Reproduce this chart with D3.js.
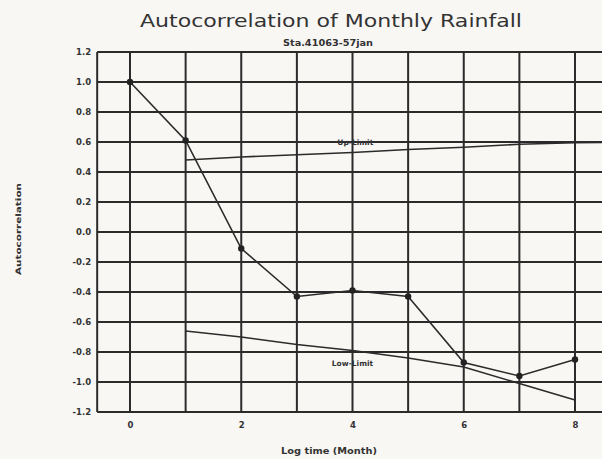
<!DOCTYPE html>
<html>
<head>
<meta charset="utf-8">
<script src="https://cdn.jsdelivr.net/npm/d3@7"></script>
<style>
  html, body { margin: 0; padding: 0; background: #f8f7f4; }
  svg { display: block; }
</style>
</head>
<body>
<svg id="chart" width="602" height="459"></svg>
<script>
// ---- data ----
const lags = [0, 1, 2, 3, 4, 5, 6, 7, 8];
const acf = [1.0, 0.61, -0.11, -0.43, -0.39, -0.43, -0.87, -0.96, -0.85];
const limitLags = [1, 2, 3, 4, 5, 6, 7, 8, 9];
const upLimit = [0.48, 0.50, 0.515, 0.53, 0.55, 0.565, 0.585, 0.595, 0.60];
const lowLimitLags = [1, 2, 3, 4, 5, 6, 7, 8];
const lowLimit = [-0.66, -0.70, -0.75, -0.79, -0.84, -0.90, -1.01, -1.12];
const yTicks = [1.2, 1.0, 0.8, 0.6, 0.4, 0.2, 0.0, -0.2, -0.4, -0.6, -0.8, -1.0, -1.2];
const xGrid = [0, 1, 2, 3, 4, 5, 6, 7, 8, 9];
const xTickLabels = [0, 2, 4, 6, 8];
const title = "Autocorrelation of Monthly Rainfall";
const subtitle = "Sta.41063-57jan";
const xTitle = "Log time (Month)";
const yTitle = "Autocorrelation";

// ---- scales ----
const svg = d3.select("#chart");
const x = d3.scaleLinear().domain([0, 8]).range([130, 575]);
const y = d3.scaleLinear().domain([-1.2, 1.2]).range([412, 52]);
const left = x(-0.59);
const right = 602;
const ink = "#2b2b2b";

// grid
const g = svg.append("g");
g.selectAll("line.h").data(yTicks).enter().append("line")
  .attr("x1", left).attr("x2", right)
  .attr("y1", d => y(d)).attr("y2", d => y(d))
  .attr("stroke", ink).attr("stroke-width", 2);
g.selectAll("line.v").data(xGrid).enter().append("line")
  .attr("x1", d => x(d)).attr("x2", d => x(d))
  .attr("y1", y(1.2)).attr("y2", y(-1.2))
  .attr("stroke", ink).attr("stroke-width", 2);
g.append("line").attr("x1", left).attr("x2", left)
  .attr("y1", y(1.2)).attr("y2", y(-1.2))
  .attr("stroke", ink).attr("stroke-width", 2);

// axes labels
const yAxis = d3.axisLeft(y).tickValues(yTicks).tickSize(0).tickPadding(6)
  .tickFormat(d => d3.format(".1f")(d).replace("−", "-"));
svg.append("g").attr("transform", `translate(${left},0)`).call(yAxis)
  .call(s => s.select(".domain").remove())
  .call(s => s.selectAll("text").attr("font-family", "DejaVu Sans").attr("font-size", 8.5)
    .attr("font-weight", "bold").attr("fill", "#333"));

const xAxis = d3.axisBottom(x).tickValues(xTickLabels).tickSize(0).tickPadding(10);
svg.append("g").attr("transform", `translate(0,${y(-1.2)})`).call(xAxis)
  .call(s => s.select(".domain").remove())
  .call(s => s.selectAll("text").attr("font-family", "DejaVu Sans").attr("font-size", 8.5)
    .attr("font-weight", "bold").attr("fill", "#333"));

// limit lines
const line = d3.line().x(d => x(d[0])).y(d => y(d[1]));
svg.append("path").datum(limitLags.map((l, i) => [l, upLimit[i]]))
  .attr("d", line).attr("fill", "none").attr("stroke", ink).attr("stroke-width", 1.6);
svg.append("path").datum(lowLimitLags.map((l, i) => [l, lowLimit[i]]))
  .attr("d", line).attr("fill", "none").attr("stroke", ink).attr("stroke-width", 1.6);

// acf series
svg.append("path").datum(lags.map((l, i) => [l, acf[i]]))
  .attr("d", line).attr("fill", "none").attr("stroke", ink).attr("stroke-width", 1.6);
svg.selectAll("circle.pt").data(lags.map((l, i) => [l, acf[i]])).enter().append("circle")
  .attr("cx", d => x(d[0])).attr("cy", d => y(d[1])).attr("r", 3.2).attr("fill", "#222");

// line labels
svg.append("text").attr("x", x(4.05)).attr("y", y(0.6) + 3).attr("text-anchor", "middle")
  .attr("font-family", "DejaVu Sans").attr("font-size", 7.5).attr("font-weight", "bold")
  .attr("fill", "#333").text("Up-Limit");
svg.append("text").attr("x", x(4.0)).attr("y", y(-0.87) + 3).attr("text-anchor", "middle")
  .attr("font-family", "DejaVu Sans").attr("font-size", 7.5).attr("font-weight", "bold")
  .attr("fill", "#333").text("Low-Limit");

// titles
svg.append("text").attr("x", 331).attr("y", 27).attr("text-anchor", "middle")
  .attr("font-family", "DejaVu Sans").attr("font-size", 18.5).attr("fill", "#333")
  .attr("textLength", 382).attr("lengthAdjust", "spacingAndGlyphs").text(title);
svg.append("text").attr("x", 328).attr("y", 46).attr("text-anchor", "middle")
  .attr("font-family", "DejaVu Sans").attr("font-size", 8).attr("font-weight", "bold")
  .attr("fill", "#333").attr("textLength", 90).attr("lengthAdjust", "spacingAndGlyphs").text(subtitle);
svg.append("text").attr("x", 329).attr("y", 454).attr("text-anchor", "middle")
  .attr("font-family", "DejaVu Sans").attr("font-size", 8).attr("font-weight", "bold")
  .attr("fill", "#333").attr("textLength", 96).attr("lengthAdjust", "spacingAndGlyphs").text(xTitle);
svg.append("text").attr("transform", "translate(21,229) rotate(-90)").attr("text-anchor", "middle")
  .attr("font-family", "DejaVu Sans").attr("font-size", 7.5).attr("font-weight", "bold")
  .attr("fill", "#333").attr("textLength", 92).attr("lengthAdjust", "spacingAndGlyphs").text(yTitle);
</script>
</body>
</html>
